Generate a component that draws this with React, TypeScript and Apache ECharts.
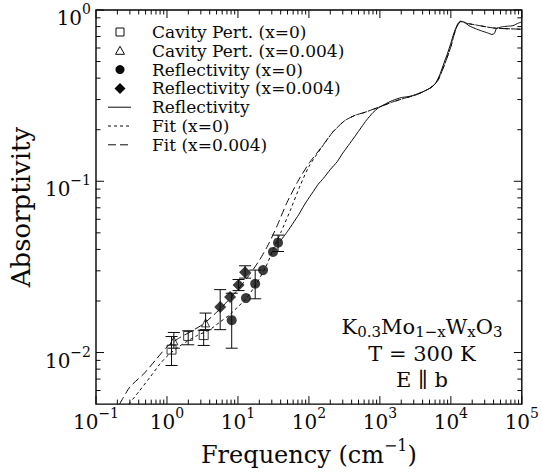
import React, { useEffect, useRef } from 'react';
import * as echarts from 'echarts';

const FONT = '"DejaVu Serif", serif';
const INK = '#0a0a0a';

// ---- axis ranges (frequency in cm^-1, absorptivity) ----
const freqMin = 0.1;
const freqMax = 1e5;
const absMin = 0.005;
const absMax = 1;
const xTickExponents = [-1, 0, 1, 2, 3, 4, 5];
const yTickExponents = [-2, -1, 0];

// ---- Cavity perturbation x = 0 (open squares) ----
const cavX0Freq = [1.16, 1.99, 3.29];
const cavX0Abs = [0.0104, 0.0125, 0.01265];
const cavX0Lo = [0.0084, 0.0111, 0.011];
const cavX0Hi = [0.0124, 0.0134, 0.0135];

// ---- Cavity perturbation x = 0.004 (open triangles) ----
const cavX4Freq = [1.25, 3.5];
const cavX4Abs = [0.0117, 0.0149];
const cavX4Lo = [0.0106, 0.0136];
const cavX4Hi = [0.0131, 0.017];

// ---- Reflectivity x = 0 (filled circles) ----
const refX0Freq = [8.17, 12.97, 17.5, 22.6, 31.2, 36.7];
const refX0Abs = [0.01545, 0.0208, 0.0252, 0.0303, 0.0387, 0.0438];
const refX0Lo = [0.0106, null, 0.0206, null, null, 0.0389];
const refX0Hi = [0.0222, null, 0.0303, null, null, 0.0485];

// ---- Reflectivity x = 0.004 (filled diamonds) ----
const refX4Freq = [5.62, 7.75, 10.2, 12.6];
const refX4Abs = [0.01845, 0.0211, 0.0248, 0.0294];
const refX4Lo = [0.0136, null, 0.023, 0.0272];
const refX4Hi = [0.0233, null, 0.0267, 0.0321];

// ---- Reflectivity spectrum (solid) ----
const reflFreq = [40, 50, 60, 72, 85, 100, 115, 135, 160, 200, 250, 300, 360, 450, 550, 650, 800, 950, 1200, 1500, 2000, 2500, 3000, 4000, 5000, 6000, 7000, 8000, 9000, 10000, 11000, 12500, 13700, 15500, 18000, 22000, 27000, 33000, 38000, 41000, 44000, 48000, 55000, 65000, 75000, 90000, 100000];
const reflAbs = [0.045, 0.051, 0.057, 0.064, 0.072, 0.08, 0.087, 0.096, 0.104, 0.117, 0.13, 0.146, 0.162, 0.184, 0.207, 0.228, 0.252, 0.268, 0.283, 0.296, 0.308, 0.312, 0.318, 0.333, 0.348, 0.37, 0.42, 0.49, 0.56, 0.64, 0.73, 0.83, 0.86, 0.85, 0.81, 0.78, 0.755, 0.735, 0.72, 0.73, 0.78, 0.79, 0.8, 0.805, 0.81, 0.84, 0.85];

// ---- Fit x = 0 (short dash) ----
const fitX0Freq = [0.29, 0.4, 0.58, 0.8, 1.0, 1.37, 1.9, 2.7, 4.0, 5.5, 7.6, 10, 13, 18, 25, 31, 40, 55, 75, 100, 150, 220, 320, 450, 620, 950, 1500, 2200, 3400, 5200, 6500, 8000, 10000, 11700, 13700, 17000, 23500, 40000, 100000];
const fitX0Abs = [0.005, 0.0059, 0.0072, 0.0086, 0.0095, 0.0106, 0.0116, 0.0126, 0.0136, 0.015, 0.0166, 0.0185, 0.0206, 0.025, 0.032, 0.0395, 0.05, 0.068, 0.094, 0.122, 0.157, 0.195, 0.226, 0.243, 0.253, 0.27, 0.29, 0.305, 0.322, 0.352, 0.385, 0.47, 0.61, 0.77, 0.855, 0.835, 0.815, 0.785, 0.772];

// ---- Fit x = 0.004 (long dash) ----
const fitX4Freq = [0.215, 0.3, 0.47, 0.7, 1.0, 1.5, 2.2, 3.2, 4.5, 6, 8, 11, 15, 20, 27, 35, 49, 70, 100, 150, 220, 320, 450, 620, 950, 1500, 2200, 3400, 5200, 6500, 8000, 10000, 11700, 13700, 17000, 23500, 40000, 100000];
const fitX4Abs = [0.005, 0.0063, 0.0075, 0.0091, 0.0108, 0.0122, 0.0133, 0.0146, 0.0165, 0.0185, 0.021, 0.0245, 0.029, 0.0345, 0.043, 0.054, 0.075, 0.1, 0.127, 0.158, 0.195, 0.226, 0.243, 0.253, 0.27, 0.29, 0.305, 0.322, 0.352, 0.385, 0.47, 0.61, 0.77, 0.855, 0.835, 0.815, 0.785, 0.772];

const legendLabels = [
  'Cavity Pert. (x=0)',
  'Cavity Pert. (x=0.004)',
  'Reflectivity (x=0)',
  'Reflectivity (x=0.004)',
  'Reflectivity',
  'Fit (x=0)',
  'Fit (x=0.004)',
];

const lg = Math.log10;
const X_MIN = lg(freqMin);
const X_MAX = lg(freqMax);
const Y_MIN = lg(absMin);
const Y_MAX = lg(absMax);

const pts = (f: number[], a: number[]) => f.map((v, i) => [lg(v), lg(a[i])]);
const bars = (f: number[], lo: (number | null)[], hi: (number | null)[]) =>
  f.map((v, i) => (lo[i] == null || hi[i] == null ? null : [lg(v), lg(lo[i] as number), lg(hi[i] as number)])).filter(Boolean);

const sup = (n: number) => (n < 0 ? '\u2212' + Math.abs(n) : String(n));

function tickData() {
  const out: number[][] = [];
  for (let e = Math.floor(X_MIN); e <= Math.ceil(X_MAX); e++) {
    for (let k = 1; k <= 9; k++) {
      const v = e + lg(k);
      if (v >= X_MIN - 1e-9 && v <= X_MAX + 1e-9) out.push([v, 0, k === 1 ? 1 : 0]);
    }
  }
  for (let e = Math.floor(Y_MIN); e <= Math.ceil(Y_MAX); e++) {
    for (let k = 1; k <= 9; k++) {
      const v = e + lg(k);
      if (v > Y_MIN + 1e-6 && v <= Y_MAX + 1e-9) out.push([v, 1, k === 1 ? 1 : 0]);
    }
  }
  return out;
}

function buildOption() {
  const lineStyle = { stroke: INK, lineWidth: 1 };
  const rowY = (i: number) => 32 + 18.8 * i;
  const symX = 120;
  const textX = 152;
  const legendText = legendLabels.map((t, i) => ({
    type: 'text',
    x: textX,
    y: rowY(i),
    style: {
      text: t,
      fill: INK,
      fontSize: 17,
      lineHeight: 18,
      fontFamily: FONT,
      align: 'left',
      verticalAlign: 'middle',
      textAlign: 'left',
      textVerticalAlign: 'middle',
    },
  }));
  const legendSymbols: any[] = [
    { type: 'rect', shape: { x: symX - 4, y: rowY(0) - 4, width: 8, height: 8 }, style: { fill: 'none', stroke: INK, lineWidth: 1 } },
    { type: 'polygon', shape: { points: [[symX, rowY(1) - 4.5], [symX + 4.5, rowY(1) + 3.5], [symX - 4.5, rowY(1) + 3.5]] }, style: { fill: 'none', stroke: INK, lineWidth: 1 } },
    { type: 'circle', shape: { cx: symX, cy: rowY(2), r: 4.5 }, style: { fill: INK } },
    { type: 'polygon', shape: { points: [[symX, rowY(3) - 5.5], [symX + 5.5, rowY(3)], [symX, rowY(3) + 5.5], [symX - 5.5, rowY(3)]] }, style: { fill: INK } },
    { type: 'line', shape: { x1: 108, y1: rowY(4), x2: 131, y2: rowY(4) }, style: { stroke: INK, lineWidth: 1 } },
    { type: 'line', shape: { x1: 108, y1: rowY(5), x2: 131, y2: rowY(5) }, style: { stroke: INK, lineWidth: 1, lineDash: [3, 3] } },
    { type: 'line', shape: { x1: 108, y1: rowY(6), x2: 131, y2: rowY(6) }, style: { stroke: INK, lineWidth: 1, lineDash: [8, 4] } },
  ];

  const ann = (text: string, y: number) => ({
    type: 'text',
    x: 422,
    y,
    style: {
      text,
      fill: INK,
      fontSize: 21,
      fontFamily: FONT,
      align: 'center',
      verticalAlign: 'middle',
      textAlign: 'center',
      textVerticalAlign: 'middle',
      rich: {
        m: { fontSize: 21, fontFamily: FONT, fill: INK, lineHeight: 24, verticalAlign: 'middle' },
        s: { fontSize: 15, fontFamily: FONT, fill: INK, lineHeight: 15, verticalAlign: 'bottom' },
      },
    },
  });

  return {
    animation: false,
    backgroundColor: '#fff',
    textStyle: { fontFamily: FONT, color: INK },
    grid: { left: 96, right: 17, top: 10, bottom: 65, show: true, borderColor: '#000', borderWidth: 1.4, backgroundColor: 'transparent' },
    xAxis: {
      type: 'value',
      min: X_MIN,
      max: X_MAX,
      interval: 1,
      axisLine: { show: false },
      axisTick: { show: false },
      splitLine: { show: false },
      axisLabel: {
        margin: 2,
        customValues: xTickExponents,
        formatter: (v: number) => `{b|10}{s|${sup(Math.round(v))}}`,
        rich: {
          b: { fontSize: 20, fontFamily: FONT, color: INK, lineHeight: 26, verticalAlign: 'bottom' },
          s: { fontSize: 14, fontFamily: FONT, color: INK, lineHeight: 14, verticalAlign: 'top' },
        },
      },
      name: '{t|Frequency (cm}{s|\u22121}{t|)}',
      nameLocation: 'middle',
      nameGap: 32,
      nameTextStyle: {
        rich: {
          t: { fontSize: 24, fontFamily: FONT, color: INK, lineHeight: 30, verticalAlign: 'bottom' },
          s: { fontSize: 16, fontFamily: FONT, color: INK, lineHeight: 16, verticalAlign: 'top' },
        },
      },
    },
    yAxis: {
      type: 'value',
      min: Y_MIN,
      max: Y_MAX,
      axisLine: { show: false },
      axisTick: { show: false },
      splitLine: { show: false },
      axisLabel: {
        margin: 5,
        padding: [10, 0, 0, 0],
        customValues: yTickExponents,
        formatter: (v: number) => `{b|10}{s|${sup(Math.round(v))}}`,
        rich: {
          b: { fontSize: 20, fontFamily: FONT, color: INK, lineHeight: 26, verticalAlign: 'bottom' },
          s: { fontSize: 14, fontFamily: FONT, color: INK, lineHeight: 14, verticalAlign: 'top' },
        },
      },
      name: 'Absorptivity',
      nameLocation: 'middle',
      nameGap: 62,
      nameTextStyle: { fontSize: 26, fontFamily: FONT, color: INK },
    },
    graphic: { elements: [...legendSymbols, ...legendText, ann('{m|K}{s|0.3}{m|Mo}{s|1\u2212x}{m|W}{s|x}{m|O}{s|3}', 327), ann('{m|T = 300 K}', 354), ann('{m|E \u2225 b}', 380)] },
    series: [
      {
        type: 'custom',
        name: 'ticks',
        silent: true,
        clip: false,
        data: tickData(),
        renderItem: (_p: any, api: any) => {
          const v = api.value(0);
          const kind = api.value(1);
          const major = api.value(2) === 1;
          const len = major ? 8 : 4.5;
          if (kind === 0) {
            const b = api.coord([v, Y_MIN]);
            const t = api.coord([v, Y_MAX]);
            return {
              type: 'group',
              children: [
                { type: 'line', shape: { x1: b[0], y1: b[1], x2: b[0], y2: b[1] - len }, style: lineStyle },
                { type: 'line', shape: { x1: t[0], y1: t[1], x2: t[0], y2: t[1] + len }, style: lineStyle },
              ],
            };
          }
          const l = api.coord([X_MIN, v]);
          const r = api.coord([X_MAX, v]);
          return {
            type: 'group',
            children: [
              { type: 'line', shape: { x1: l[0], y1: l[1], x2: l[0] + len, y2: l[1] }, style: lineStyle },
              { type: 'line', shape: { x1: r[0], y1: r[1], x2: r[0] - len, y2: r[1] }, style: lineStyle },
            ],
          };
        },
      },
      {
        type: 'line',
        name: 'Reflectivity',
        data: pts(reflFreq, reflAbs),
        showSymbol: false,
        symbol: 'none',
        smooth: 0.2,
        lineStyle: { color: INK, width: 1 },
      },
      {
        type: 'line',
        name: 'Fit (x=0)',
        data: pts(fitX0Freq, fitX0Abs),
        showSymbol: false,
        symbol: 'none',
        smooth: 0.2,
        lineStyle: { color: INK, width: 1, type: [3, 3] },
      },
      {
        type: 'line',
        name: 'Fit (x=0.004)',
        data: pts(fitX4Freq, fitX4Abs),
        showSymbol: false,
        symbol: 'none',
        smooth: 0.2,
        lineStyle: { color: INK, width: 1, type: [8, 4] },
      },
      {
        type: 'custom',
        name: 'error bars',
        silent: true,
        data: [...bars(cavX0Freq, cavX0Lo, cavX0Hi), ...bars(cavX4Freq, cavX4Lo, cavX4Hi), ...bars(refX0Freq, refX0Lo, refX0Hi), ...bars(refX4Freq, refX4Lo, refX4Hi)],
        encode: { x: 0, y: [1, 2] },
        renderItem: (_p: any, api: any) => {
          const x = api.value(0);
          const a = api.coord([x, api.value(1)]);
          const b = api.coord([x, api.value(2)]);
          const w = 6;
          return {
            type: 'group',
            children: [
              { type: 'line', shape: { x1: a[0], y1: a[1], x2: b[0], y2: b[1] }, style: lineStyle },
              { type: 'line', shape: { x1: a[0] - w, y1: a[1], x2: a[0] + w, y2: a[1] }, style: lineStyle },
              { type: 'line', shape: { x1: b[0] - w, y1: b[1], x2: b[0] + w, y2: b[1] }, style: lineStyle },
            ],
          };
        },
      },
      {
        type: 'scatter',
        name: legendLabels[0],
        data: pts(cavX0Freq, cavX0Abs),
        symbol: 'rect',
        symbolSize: 9,
        itemStyle: { color: 'transparent', borderColor: INK, borderWidth: 1 },
      },
      {
        type: 'scatter',
        name: legendLabels[1],
        data: pts(cavX4Freq, cavX4Abs),
        symbol: 'triangle',
        symbolSize: 8,
        itemStyle: { color: 'transparent', borderColor: INK, borderWidth: 1 },
      },
      {
        type: 'scatter',
        name: legendLabels[2],
        data: pts(refX0Freq, refX0Abs),
        symbol: 'circle',
        symbolSize: 10,
        itemStyle: { color: INK },
      },
      {
        type: 'scatter',
        name: legendLabels[3],
        data: pts(refX4Freq, refX4Abs),
        symbol: 'diamond',
        symbolSize: 12,
        itemStyle: { color: INK },
      },
    ],
  };
}

export default function App() {
  const ref = useRef<HTMLDivElement>(null);
  useEffect(() => {
    if (!ref.current) return;
    const chart = echarts.init(ref.current, null, { renderer: 'svg' });
    chart.setOption(buildOption() as any);
    return () => chart.dispose();
  }, []);
  return <div ref={ref} style={{ position: 'absolute', left: 0, top: 0, width: 542, height: 472, background: '#fff' }} />;
}
